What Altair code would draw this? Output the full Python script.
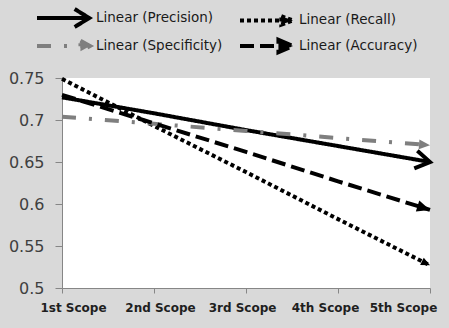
import math
import altair as alt
import pandas as pd

# ---- data ----
scopes = ["1st Scope", "2nd Scope", "3rd Scope", "4th Scope", "5th Scope"]
series_names = ["Linear (Precision)", "Linear (Recall)", "Linear (Specificity)", "Linear (Accuracy)"]
precision = [0.727, 0.708, 0.688, 0.669, 0.650]
recall = [0.749, 0.693, 0.638, 0.582, 0.527]
specificity = [0.704, 0.6955, 0.687, 0.6785, 0.670]
accuracy = [0.730, 0.696, 0.662, 0.627, 0.593]
y_ticks = [0.5, 0.55, 0.6, 0.65, 0.7, 0.75]

# ---- styles ----
colors = ["#000000", "#000000", "#7f7f7f", "#000000"]
dashes = [[1, 0], [4, 3], [14, 13, 3, 13], [14, 6]]
widths = [4, 4, 3.5, 5]
tri_sizes = [81, 81, 121, 169]
W, H = 368, 210
PX_PER_UNIT = H / (y_ticks[-1] - y_ticks[0])
PX_PER_STEP = W / (len(scopes) - 1)

CHEVRON = "M-1.6,-1 L0,0 L-1.6,1"
TRI = "M0,0 L-2,-0.9 L-2,0.9 Z"

legend_paths = {
    "Linear (Precision)": "M-1,0 L4.8,0 M3.18,-1 L4.8,0 L3.18,1",
    "Linear (Recall)": "M-1,0 L3.59,0 M3.59,-0.47 L4.89,0 L3.59,0.47 Z",
    "Linear (Specificity)": "M-1,0 L3.83,0 M3.83,-0.59 L4.89,0 L3.83,0.59 Z",
    "Linear (Accuracy)": "M-1,0 L3.27,0 M3.27,-0.68 L4.89,0 L3.27,0.68 Z",
}
sym_expr = " : ".join(
    [f"datum.value === '{k}' ? '{v}'" for k, v in list(legend_paths.items())[:-1]]
    + [f"'{list(legend_paths.values())[-1]}'"]
)
fill_expr = "datum.value === 'Linear (Precision)' ? 'transparent' : scale('color', datum.value)"

series_list = [precision, recall, specificity, accuracy]
rows = []
ends = []
for name, vals in zip(series_names, series_list):
    for s, v in zip(scopes, vals):
        rows.append({"scope": s, "value": v, "series": name})
    ang = math.degrees(math.atan2((vals[-2] - vals[-1]) * PX_PER_UNIT, PX_PER_STEP))
    ends.append({"scope": scopes[-1], "value": vals[-1], "series": name, "angle": ang})
df = pd.DataFrame(rows)
ends_df = pd.DataFrame(ends)

label_offsets = [11, 6, -4, -13, -27]
x_axis = alt.Axis(
    title=None, labelAngle=0, labelFont="DejaVu Sans", labelFontSize=12, labelFontWeight="bold",
    labelColor="#1f1f1f", domainColor="#868686", tickColor="#868686", tickSize=5,
    labelPadding=9, grid=False,
    labelOffset={"condition": [{"test": f"datum.value === '{s}'", "value": o} for s, o in zip(scopes, label_offsets)], "value": 0},
)
y_axis = alt.Axis(
    title=None, values=y_ticks, format="~g", labelFont="DejaVu Sans", labelFontSize=16,
    labelColor="#404040", domainColor="#868686", tickColor="#868686", tickSize=7,
    labelPadding=11, grid=False,
)
x_enc = alt.X("scope:N", sort=scopes, scale=alt.Scale(type="point", padding=0), axis=x_axis)
y_enc = alt.Y("value:Q", scale=alt.Scale(domain=[y_ticks[0], y_ticks[-1]], nice=False, zero=False), axis=y_axis)

legend = alt.Legend(
    title=None, orient="none", legendX=-27, legendY=-71, columns=2, direction="horizontal",
    columnPadding=9, rowPadding=-4, symbolSize=324, symbolStrokeWidth=3.5,
    symbolType=alt.ExprRef(sym_expr), symbolFillColor=alt.ExprRef(fill_expr),
    labelFont="DejaVu Sans", labelFontSize=13.5, labelColor="#1a1a1a", labelOffset=39, labelLimit=300,
    symbolOffset=0,
)

lines = alt.Chart(df).mark_line(strokeCap="butt").encode(
    x=x_enc,
    y=y_enc,
    color=alt.Color("series:N", scale=alt.Scale(domain=series_names, range=colors), legend=legend),
    strokeDash=alt.StrokeDash("series:N", scale=alt.Scale(domain=series_names, range=dashes), legend=legend),
    strokeWidth=alt.StrokeWidth("series:N", scale=alt.Scale(domain=series_names, range=widths), legend=None),
)

prec_arrow = alt.Chart(ends_df).transform_filter(
    alt.datum.series == series_names[0]
).mark_point(shape=CHEVRON, filled=False, size=324, strokeWidth=4, color=colors[0], opacity=1,
             strokeJoin="miter").encode(
    x=x_enc, y=y_enc, angle=alt.Angle("angle:Q", scale=None)
)

arrow_layers = [prec_arrow]
for name, col, sz in list(zip(series_names, colors, tri_sizes))[1:]:
    arrow_layers.append(
        alt.Chart(ends_df).transform_filter(alt.datum.series == name).mark_point(
            shape=TRI, filled=True, opacity=1, strokeWidth=0, color=col, size=sz
        ).encode(x=x_enc, y=y_enc, angle=alt.Angle("angle:Q", scale=None))
    )

chart = alt.layer(lines, *arrow_layers).properties(
    width=W, height=H,
    padding={"left": 62, "top": 78, "right": 19, "bottom": 40},
    autosize=alt.AutoSizeParams(type="none"),
).configure(background="#d9d9d9").configure_view(fill="white", stroke=None)

chart.save("out.html", embed_options={"renderer": "svg", "actions": False})
